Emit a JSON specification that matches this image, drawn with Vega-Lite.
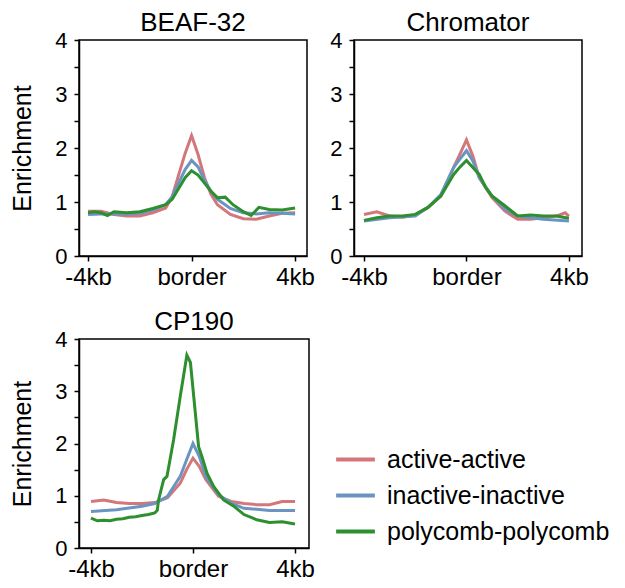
{
  "$schema": "https://vega.github.io/schema/vega-lite/v6.json",
  "background": "white",
  "padding": {"left": 10, "top": 9, "right": 5, "bottom": 5},
  "spacing": {"row": 18, "column": 13},
  "config": {
    "font": "Liberation Sans",
    "view": {"stroke": "black", "strokeWidth": 1.5},
    "title": {"fontSize": 26, "fontWeight": "normal", "color": "black", "offset": -7},
    "axis": {"domainColor": "black", "domainWidth": 1.5, "tickColor": "black", "tickWidth": 1.5, "tickSize": 5, "labelColor": "black", "labelFontSize": 24, "titleFontSize": 25, "titleFontWeight": "normal", "titleColor": "black", "grid": false, "labelPadding": 4},
    "axisY": {"labelFontSize": 22, "labelPadding": 7}
  },
  "datasets": {
    "d": [
      {"panel":"BEAF-32","series":"active-active","x":-4,"y":0.83},{"panel":"BEAF-32","series":"active-active","x":-3.5,"y":0.83},{"panel":"BEAF-32","series":"active-active","x":-3,"y":0.77},{"panel":"BEAF-32","series":"active-active","x":-2.5,"y":0.74},{"panel":"BEAF-32","series":"active-active","x":-2,"y":0.74},{"panel":"BEAF-32","series":"active-active","x":-1.5,"y":0.8},{"panel":"BEAF-32","series":"active-active","x":-1,"y":0.89},{"panel":"BEAF-32","series":"active-active","x":-0.75,"y":1.1},{"panel":"BEAF-32","series":"active-active","x":-0.5,"y":1.5},{"panel":"BEAF-32","series":"active-active","x":-0.25,"y":1.9},{"panel":"BEAF-32","series":"active-active","x":0,"y":2.23},{"panel":"BEAF-32","series":"active-active","x":0.25,"y":1.88},{"panel":"BEAF-32","series":"active-active","x":0.5,"y":1.45},{"panel":"BEAF-32","series":"active-active","x":0.75,"y":1.14},{"panel":"BEAF-32","series":"active-active","x":1,"y":0.95},{"panel":"BEAF-32","series":"active-active","x":1.5,"y":0.77},{"panel":"BEAF-32","series":"active-active","x":2,"y":0.69},{"panel":"BEAF-32","series":"active-active","x":2.5,"y":0.68},{"panel":"BEAF-32","series":"active-active","x":3,"y":0.74},{"panel":"BEAF-32","series":"active-active","x":3.5,"y":0.79},{"panel":"BEAF-32","series":"active-active","x":4,"y":0.8},
      {"panel":"BEAF-32","series":"inactive-inactive","x":-4,"y":0.77},{"panel":"BEAF-32","series":"inactive-inactive","x":-3.5,"y":0.78},{"panel":"BEAF-32","series":"inactive-inactive","x":-3,"y":0.78},{"panel":"BEAF-32","series":"inactive-inactive","x":-2.5,"y":0.78},{"panel":"BEAF-32","series":"inactive-inactive","x":-2,"y":0.79},{"panel":"BEAF-32","series":"inactive-inactive","x":-1.5,"y":0.85},{"panel":"BEAF-32","series":"inactive-inactive","x":-1,"y":0.95},{"panel":"BEAF-32","series":"inactive-inactive","x":-0.75,"y":1.1},{"panel":"BEAF-32","series":"inactive-inactive","x":-0.5,"y":1.35},{"panel":"BEAF-32","series":"inactive-inactive","x":-0.25,"y":1.6},{"panel":"BEAF-32","series":"inactive-inactive","x":0,"y":1.77},{"panel":"BEAF-32","series":"inactive-inactive","x":0.25,"y":1.65},{"panel":"BEAF-32","series":"inactive-inactive","x":0.5,"y":1.4},{"panel":"BEAF-32","series":"inactive-inactive","x":0.75,"y":1.2},{"panel":"BEAF-32","series":"inactive-inactive","x":1,"y":1.05},{"panel":"BEAF-32","series":"inactive-inactive","x":1.5,"y":0.88},{"panel":"BEAF-32","series":"inactive-inactive","x":2,"y":0.8},{"panel":"BEAF-32","series":"inactive-inactive","x":2.5,"y":0.78},{"panel":"BEAF-32","series":"inactive-inactive","x":3,"y":0.8},{"panel":"BEAF-32","series":"inactive-inactive","x":3.5,"y":0.79},{"panel":"BEAF-32","series":"inactive-inactive","x":4,"y":0.78},
      {"panel":"BEAF-32","series":"polycomb-polycomb","x":-4,"y":0.8},{"panel":"BEAF-32","series":"polycomb-polycomb","x":-3.75,"y":0.82},{"panel":"BEAF-32","series":"polycomb-polycomb","x":-3.5,"y":0.8},{"panel":"BEAF-32","series":"polycomb-polycomb","x":-3.25,"y":0.75},{"panel":"BEAF-32","series":"polycomb-polycomb","x":-3,"y":0.82},{"panel":"BEAF-32","series":"polycomb-polycomb","x":-2.5,"y":0.8},{"panel":"BEAF-32","series":"polycomb-polycomb","x":-2,"y":0.82},{"panel":"BEAF-32","series":"polycomb-polycomb","x":-1.5,"y":0.88},{"panel":"BEAF-32","series":"polycomb-polycomb","x":-1,"y":0.95},{"panel":"BEAF-32","series":"polycomb-polycomb","x":-0.75,"y":1.05},{"panel":"BEAF-32","series":"polycomb-polycomb","x":-0.5,"y":1.25},{"panel":"BEAF-32","series":"polycomb-polycomb","x":-0.25,"y":1.45},{"panel":"BEAF-32","series":"polycomb-polycomb","x":0,"y":1.58},{"panel":"BEAF-32","series":"polycomb-polycomb","x":0.25,"y":1.5},{"panel":"BEAF-32","series":"polycomb-polycomb","x":0.5,"y":1.35},{"panel":"BEAF-32","series":"polycomb-polycomb","x":0.75,"y":1.2},{"panel":"BEAF-32","series":"polycomb-polycomb","x":1,"y":1.08},{"panel":"BEAF-32","series":"polycomb-polycomb","x":1.3,"y":1.09},{"panel":"BEAF-32","series":"polycomb-polycomb","x":1.6,"y":0.95},{"panel":"BEAF-32","series":"polycomb-polycomb","x":2,"y":0.82},{"panel":"BEAF-32","series":"polycomb-polycomb","x":2.3,"y":0.75},{"panel":"BEAF-32","series":"polycomb-polycomb","x":2.6,"y":0.9},{"panel":"BEAF-32","series":"polycomb-polycomb","x":3,"y":0.86},{"panel":"BEAF-32","series":"polycomb-polycomb","x":3.5,"y":0.85},{"panel":"BEAF-32","series":"polycomb-polycomb","x":4,"y":0.89},
      {"panel":"Chromator","series":"active-active","x":-4,"y":0.77},{"panel":"Chromator","series":"active-active","x":-3.5,"y":0.82},{"panel":"Chromator","series":"active-active","x":-3,"y":0.74},{"panel":"Chromator","series":"active-active","x":-2.5,"y":0.72},{"panel":"Chromator","series":"active-active","x":-2,"y":0.76},{"panel":"Chromator","series":"active-active","x":-1.5,"y":0.9},{"panel":"Chromator","series":"active-active","x":-1,"y":1.11},{"panel":"Chromator","series":"active-active","x":-0.5,"y":1.64},{"panel":"Chromator","series":"active-active","x":-0.25,"y":1.89},{"panel":"Chromator","series":"active-active","x":0,"y":2.15},{"panel":"Chromator","series":"active-active","x":0.25,"y":1.85},{"panel":"Chromator","series":"active-active","x":0.5,"y":1.45},{"panel":"Chromator","series":"active-active","x":1,"y":1.08},{"panel":"Chromator","series":"active-active","x":1.5,"y":0.83},{"panel":"Chromator","series":"active-active","x":2,"y":0.68},{"panel":"Chromator","series":"active-active","x":2.5,"y":0.68},{"panel":"Chromator","series":"active-active","x":3,"y":0.71},{"panel":"Chromator","series":"active-active","x":3.5,"y":0.74},{"panel":"Chromator","series":"active-active","x":3.85,"y":0.8},{"panel":"Chromator","series":"active-active","x":4,"y":0.74},
      {"panel":"Chromator","series":"inactive-inactive","x":-4,"y":0.65},{"panel":"Chromator","series":"inactive-inactive","x":-3,"y":0.71},{"panel":"Chromator","series":"inactive-inactive","x":-2,"y":0.74},{"panel":"Chromator","series":"inactive-inactive","x":-1.5,"y":0.9},{"panel":"Chromator","series":"inactive-inactive","x":-1,"y":1.14},{"panel":"Chromator","series":"inactive-inactive","x":-0.5,"y":1.64},{"panel":"Chromator","series":"inactive-inactive","x":-0.25,"y":1.8},{"panel":"Chromator","series":"inactive-inactive","x":0,"y":1.95},{"panel":"Chromator","series":"inactive-inactive","x":0.25,"y":1.76},{"panel":"Chromator","series":"inactive-inactive","x":0.5,"y":1.45},{"panel":"Chromator","series":"inactive-inactive","x":1,"y":1.11},{"panel":"Chromator","series":"inactive-inactive","x":1.5,"y":0.87},{"panel":"Chromator","series":"inactive-inactive","x":2,"y":0.74},{"panel":"Chromator","series":"inactive-inactive","x":3,"y":0.68},{"panel":"Chromator","series":"inactive-inactive","x":4,"y":0.65},
      {"panel":"Chromator","series":"polycomb-polycomb","x":-4,"y":0.66},{"panel":"Chromator","series":"polycomb-polycomb","x":-3.5,"y":0.71},{"panel":"Chromator","series":"polycomb-polycomb","x":-3,"y":0.74},{"panel":"Chromator","series":"polycomb-polycomb","x":-2.5,"y":0.74},{"panel":"Chromator","series":"polycomb-polycomb","x":-2,"y":0.77},{"panel":"Chromator","series":"polycomb-polycomb","x":-1.5,"y":0.9},{"panel":"Chromator","series":"polycomb-polycomb","x":-1,"y":1.11},{"panel":"Chromator","series":"polycomb-polycomb","x":-0.5,"y":1.51},{"panel":"Chromator","series":"polycomb-polycomb","x":-0.25,"y":1.65},{"panel":"Chromator","series":"polycomb-polycomb","x":0,"y":1.77},{"panel":"Chromator","series":"polycomb-polycomb","x":0.25,"y":1.64},{"panel":"Chromator","series":"polycomb-polycomb","x":0.4,"y":1.56},{"panel":"Chromator","series":"polycomb-polycomb","x":0.5,"y":1.51},{"panel":"Chromator","series":"polycomb-polycomb","x":0.75,"y":1.27},{"panel":"Chromator","series":"polycomb-polycomb","x":1,"y":1.11},{"panel":"Chromator","series":"polycomb-polycomb","x":1.5,"y":0.93},{"panel":"Chromator","series":"polycomb-polycomb","x":2,"y":0.74},{"panel":"Chromator","series":"polycomb-polycomb","x":2.5,"y":0.76},{"panel":"Chromator","series":"polycomb-polycomb","x":3,"y":0.74},{"panel":"Chromator","series":"polycomb-polycomb","x":3.5,"y":0.74},{"panel":"Chromator","series":"polycomb-polycomb","x":4,"y":0.7},
      {"panel":"CP190","series":"active-active","x":-4,"y":0.89},{"panel":"CP190","series":"active-active","x":-3.5,"y":0.92},{"panel":"CP190","series":"active-active","x":-3,"y":0.87},{"panel":"CP190","series":"active-active","x":-2.5,"y":0.85},{"panel":"CP190","series":"active-active","x":-2,"y":0.85},{"panel":"CP190","series":"active-active","x":-1.5,"y":0.87},{"panel":"CP190","series":"active-active","x":-1,"y":0.96},{"panel":"CP190","series":"active-active","x":-0.5,"y":1.24},{"panel":"CP190","series":"active-active","x":-0.25,"y":1.5},{"panel":"CP190","series":"active-active","x":0,"y":1.72},{"panel":"CP190","series":"active-active","x":0.25,"y":1.56},{"panel":"CP190","series":"active-active","x":0.5,"y":1.31},{"panel":"CP190","series":"active-active","x":1,"y":0.99},{"panel":"CP190","series":"active-active","x":1.5,"y":0.89},{"panel":"CP190","series":"active-active","x":2,"y":0.85},{"panel":"CP190","series":"active-active","x":2.5,"y":0.83},{"panel":"CP190","series":"active-active","x":3,"y":0.83},{"panel":"CP190","series":"active-active","x":3.5,"y":0.89},{"panel":"CP190","series":"active-active","x":4,"y":0.89},
      {"panel":"CP190","series":"inactive-inactive","x":-4,"y":0.7},{"panel":"CP190","series":"inactive-inactive","x":-3,"y":0.73},{"panel":"CP190","series":"inactive-inactive","x":-2,"y":0.8},{"panel":"CP190","series":"inactive-inactive","x":-1.5,"y":0.85},{"panel":"CP190","series":"inactive-inactive","x":-1,"y":0.99},{"panel":"CP190","series":"inactive-inactive","x":-0.5,"y":1.37},{"panel":"CP190","series":"inactive-inactive","x":-0.25,"y":1.69},{"panel":"CP190","series":"inactive-inactive","x":0,"y":2.0},{"panel":"CP190","series":"inactive-inactive","x":0.25,"y":1.75},{"panel":"CP190","series":"inactive-inactive","x":0.5,"y":1.37},{"panel":"CP190","series":"inactive-inactive","x":1,"y":1.02},{"panel":"CP190","series":"inactive-inactive","x":1.5,"y":0.86},{"panel":"CP190","series":"inactive-inactive","x":2,"y":0.76},{"panel":"CP190","series":"inactive-inactive","x":3,"y":0.72},{"panel":"CP190","series":"inactive-inactive","x":4,"y":0.72},
      {"panel":"CP190","series":"polycomb-polycomb","x":-4,"y":0.57},{"panel":"CP190","series":"polycomb-polycomb","x":-3.75,"y":0.52},{"panel":"CP190","series":"polycomb-polycomb","x":-3.5,"y":0.53},{"panel":"CP190","series":"polycomb-polycomb","x":-3.25,"y":0.52},{"panel":"CP190","series":"polycomb-polycomb","x":-3,"y":0.55},{"panel":"CP190","series":"polycomb-polycomb","x":-2.75,"y":0.56},{"panel":"CP190","series":"polycomb-polycomb","x":-2.5,"y":0.59},{"panel":"CP190","series":"polycomb-polycomb","x":-2.25,"y":0.6},{"panel":"CP190","series":"polycomb-polycomb","x":-2,"y":0.62},{"panel":"CP190","series":"polycomb-polycomb","x":-1.75,"y":0.64},{"panel":"CP190","series":"polycomb-polycomb","x":-1.5,"y":0.67},{"panel":"CP190","series":"polycomb-polycomb","x":-1.4,"y":0.72},{"panel":"CP190","series":"polycomb-polycomb","x":-1.35,"y":0.92},{"panel":"CP190","series":"polycomb-polycomb","x":-1.15,"y":1.31},{"panel":"CP190","series":"polycomb-polycomb","x":-1.02,"y":1.37},{"panel":"CP190","series":"polycomb-polycomb","x":-0.76,"y":2.07},{"panel":"CP190","series":"polycomb-polycomb","x":-0.5,"y":2.9},{"panel":"CP190","series":"polycomb-polycomb","x":-0.24,"y":3.69},{"panel":"CP190","series":"polycomb-polycomb","x":-0.1,"y":3.55},{"panel":"CP190","series":"polycomb-polycomb","x":0.22,"y":1.94},{"panel":"CP190","series":"polycomb-polycomb","x":0.35,"y":1.75},{"panel":"CP190","series":"polycomb-polycomb","x":0.55,"y":1.43},{"panel":"CP190","series":"polycomb-polycomb","x":0.81,"y":1.18},{"panel":"CP190","series":"polycomb-polycomb","x":1.2,"y":0.92},{"panel":"CP190","series":"polycomb-polycomb","x":1.6,"y":0.8},{"panel":"CP190","series":"polycomb-polycomb","x":2,"y":0.64},{"panel":"CP190","series":"polycomb-polycomb","x":2.5,"y":0.54},{"panel":"CP190","series":"polycomb-polycomb","x":3,"y":0.49},{"panel":"CP190","series":"polycomb-polycomb","x":3.5,"y":0.5},{"panel":"CP190","series":"polycomb-polycomb","x":4,"y":0.46}
    ]
  },
  "columns": 2,
  "concat": [
    {
      "title": "BEAF-32",
      "width": 228, "height": 216,
      "data": {"name": "d"},
      "transform": [{"filter": "datum.panel === 'BEAF-32'"}],
      "mark": {"type": "line", "strokeWidth": 3},
      "encoding": {
        "x": {"field": "x", "type": "quantitative", "scale": {"domain": [-4.35, 4.46], "nice": false, "zero": false},
              "axis": {"values": [-4, 0, 4], "title": null, "labelExpr": "datum.value === 0 ? 'border' : (datum.value < 0 ? '-4kb' : '4kb')"}},
        "y": {"field": "y", "type": "quantitative", "scale": {"domain": [0, 4], "nice": false},
              "axis": {"values": [0, 0.5, 1, 1.5, 2, 2.5, 3, 3.5, 4], "labelExpr": "datum.value % 1 === 0 ? format(datum.value, 'd') : ''", "title": "Enrichment", "titlePadding": 19}},
        "color": {"field": "series", "type": "nominal",
                  "scale": {"domain": ["active-active", "inactive-inactive", "polycomb-polycomb"], "range": ["#d3777b", "#6a94c2", "#2e8f2e"]},
                  "legend": {"orient": "none", "legendX": 255, "legendY": 398, "title": null, "symbolType": "stroke", "symbolSize": 1500, "symbolStrokeWidth": 4, "labelFontSize": 25, "labelColor": "black", "labelOffset": 10, "labelLimit": 0, "rowPadding": 1}}
      }
    },
    {
      "title": "Chromator",
      "width": 228, "height": 216,
      "data": {"name": "d"},
      "transform": [{"filter": "datum.panel === 'Chromator'"}],
      "mark": {"type": "line", "strokeWidth": 3},
      "encoding": {
        "x": {"field": "x", "type": "quantitative", "scale": {"domain": [-4.39, 4.51], "nice": false, "zero": false},
              "axis": {"values": [-4, 0, 4], "title": null, "labelExpr": "datum.value === 0 ? 'border' : (datum.value < 0 ? '-4kb' : '4kb')"}},
        "y": {"field": "y", "type": "quantitative", "scale": {"domain": [0, 4], "nice": false},
              "axis": {"values": [0, 0.5, 1, 1.5, 2, 2.5, 3, 3.5, 4], "labelExpr": "datum.value % 1 === 0 ? format(datum.value, 'd') : ''", "title": null}},
        "color": {"field": "series", "type": "nominal"}
      }
    },
    {
      "title": "CP190",
      "width": 230, "height": 209,
      "data": {"name": "d"},
      "transform": [{"filter": "datum.panel === 'CP190'"}],
      "mark": {"type": "line", "strokeWidth": 3},
      "encoding": {
        "x": {"field": "x", "type": "quantitative", "scale": {"domain": [-4.47, 4.55], "nice": false, "zero": false},
              "axis": {"values": [-4, 0, 4], "title": null, "labelExpr": "datum.value === 0 ? 'border' : (datum.value < 0 ? '-4kb' : '4kb')"}},
        "y": {"field": "y", "type": "quantitative", "scale": {"domain": [0, 4], "nice": false},
              "axis": {"values": [0, 0.5, 1, 1.5, 2, 2.5, 3, 3.5, 4], "labelExpr": "datum.value % 1 === 0 ? format(datum.value, 'd') : ''", "title": "Enrichment", "titlePadding": 19}},
        "color": {"field": "series", "type": "nominal"}
      }
    }
  ]
}
